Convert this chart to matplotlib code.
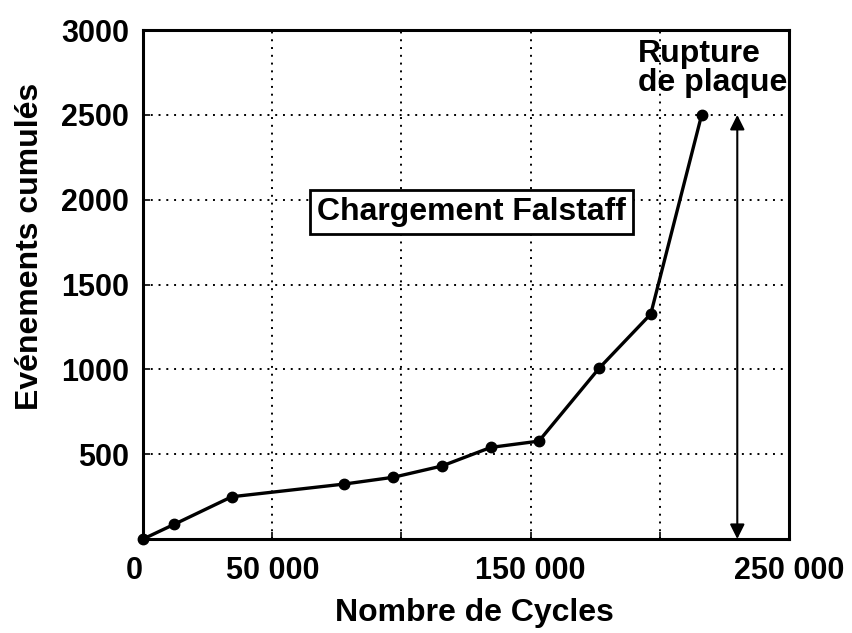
import matplotlib
matplotlib.use("Agg")
import matplotlib.pyplot as plt

cycles = [0, 12100, 34300, 77900, 96900, 115600, 134600, 153200, 176600, 196500, 216200]
events = [0, 87, 249, 324, 364, 430, 540, 577, 1008, 1326, 2500]

x_ticks = [0, 50000, 100000, 150000, 200000, 250000]
x_ticklabels = ["0", "50 000", "", "150 000", "", "250 000"]
y_ticks = [500, 1000, 1500, 2000, 2500, 3000]
y_ticklabels = ["500", "1000", "1500", "2000", "2500", "3000"]

rupture_x = 230000
rupture_y = 2500

plt.rcParams['font.family'] = ['Liberation Sans', 'DejaVu Sans']
plt.rcParams['font.weight'] = 'bold'
FS = 22
FL = 23

fig = plt.figure(figsize=(8.52, 6.33), dpi=100)
ax = fig.add_axes([0.168, 0.1485, 0.758, 0.804])

ax.plot(cycles, events, color='black', lw=2.4, marker='o', ms=7.5, zorder=3, clip_on=False)

ax.set_xlim(0, 250000)
ax.set_ylim(0, 3000)
ax.set_xticks(x_ticks)
ax.set_xticklabels(x_ticklabels, fontsize=FS, fontweight='bold')
ax.set_yticks(y_ticks)
ax.set_yticklabels(y_ticklabels, fontsize=FS, fontweight='bold')
ax.tick_params(direction='in', length=5, width=1.2, pad=10)
ax.tick_params(axis='x', pad=12)
ax.xaxis.get_ticklabels()[0].set_horizontalalignment('right')

ax.grid(True, linestyle=(0, (1, 3)), color='black', lw=1.4)
ax.set_axisbelow(True)
for s in ax.spines.values():
    s.set_linewidth(2.2)

ax.set_xlabel("Nombre de Cycles", fontsize=FL, fontweight='bold', labelpad=10)
ax.xaxis.set_label_coords(0.513, -0.115)
ax.set_ylabel("Evénements cumulés", fontsize=FL, fontweight='bold')
ax.yaxis.set_label_coords(-0.152, 0.575)

ax.annotate("", xy=(rupture_x, rupture_y), xytext=(rupture_x, 0),
            arrowprops=dict(arrowstyle='<|-|>', color='black', lw=1.5,
                            mutation_scale=22, shrinkA=0, shrinkB=0))

ax.text(191600, 2950, "Rupture\nde plaque", fontsize=FL, fontweight='bold',
        ha='left', va='top', linespacing=0.98, clip_on=False, zorder=5)

ax.text(127000, 1927, "Chargement Falstaff", fontsize=FL, fontweight='bold',
        ha='center', va='center', zorder=5,
        bbox=dict(boxstyle='square,pad=0.22', fc='white', ec='black', lw=2))

fig.savefig("out.png", dpi=100, facecolor='white')
